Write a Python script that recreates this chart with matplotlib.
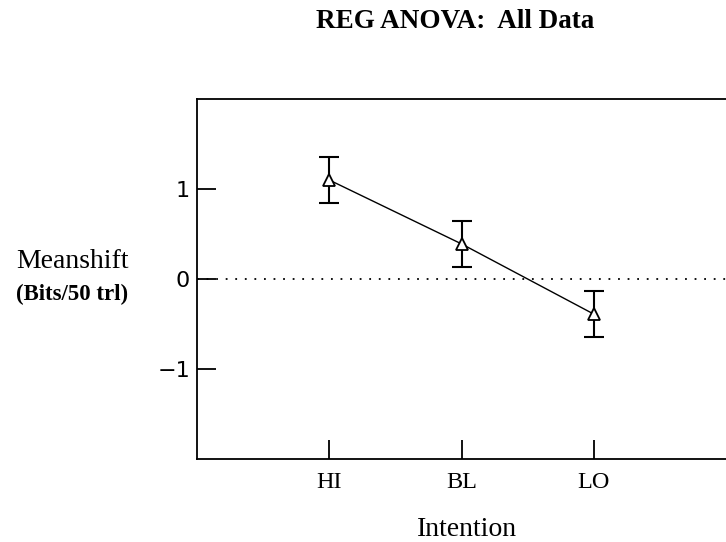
import matplotlib
matplotlib.use("Agg")
import matplotlib.pyplot as plt

categories = ["HI", "BL", "LO"]
means = [1.10, 0.39, -0.39]
errors = [0.255, 0.255, 0.255]
yticks = [-1, 0, 1]

fig = plt.figure(figsize=(7.26, 5.42), dpi=100)
W, H = 726, 542
left, right, top, bottom = 197, 726, 99, 459
ax = fig.add_axes([left / W, 1 - bottom / H, (right - left) / W, (bottom - top) / H])

x = list(range(1, len(categories) + 1))
ax.axhline(0, color="black", lw=1.3, linestyle=(0, (1, 4.3)), zorder=1)
ax.errorbar(x, means, yerr=errors, fmt="none", ecolor="black", elinewidth=1.5,
            capsize=7.5, capthick=1.5, zorder=2)
ax.plot(x, means, color="black", lw=1.0, marker="^", markersize=8,
        markerfacecolor="white", markeredgecolor="black", markeredgewidth=1.3, zorder=3)

ax.set_xlim(0, 4.0)
ax.set_ylim(-2, 2)
ax.set_xticks(x)
ax.set_xticklabels(categories, fontfamily="Liberation Serif", fontsize=17.5)
ax.set_yticks(yticks)
ax.set_yticklabels(["\u22121", "0", "1"], fontfamily="DejaVu Sans", fontsize=16)
ax.tick_params(axis="both", direction="in", length=13.7, width=1.3, top=False, right=False)
ax.tick_params(axis="x", pad=9.5)
ax.tick_params(axis="y", pad=5)
for s in ["left", "top", "bottom"]:
    ax.spines[s].set_linewidth(1.3)
ax.spines["right"].set_visible(False)

fig.text(455 / W, 1 - 22 / H, "REG ANOVA:  All Data", ha="center", va="center",
         fontfamily="Liberation Serif", fontweight="bold", fontsize=19.5)
fig.text(467 / W, 1 - 530 / H, "Intention", ha="center", va="center",
         fontfamily="Liberation Serif", fontsize=20)
fig.text(72 / W, 1 - 261 / H, "Meanshift", ha="center", va="center",
         fontfamily="Liberation Serif", fontsize=20)
fig.text(72 / W, 1 - 294 / H, "(Bits/50 trl)", ha="center", va="center",
         fontfamily="Liberation Serif", fontsize=16.5, fontweight="bold")

fig.savefig("out.png", dpi=100)
